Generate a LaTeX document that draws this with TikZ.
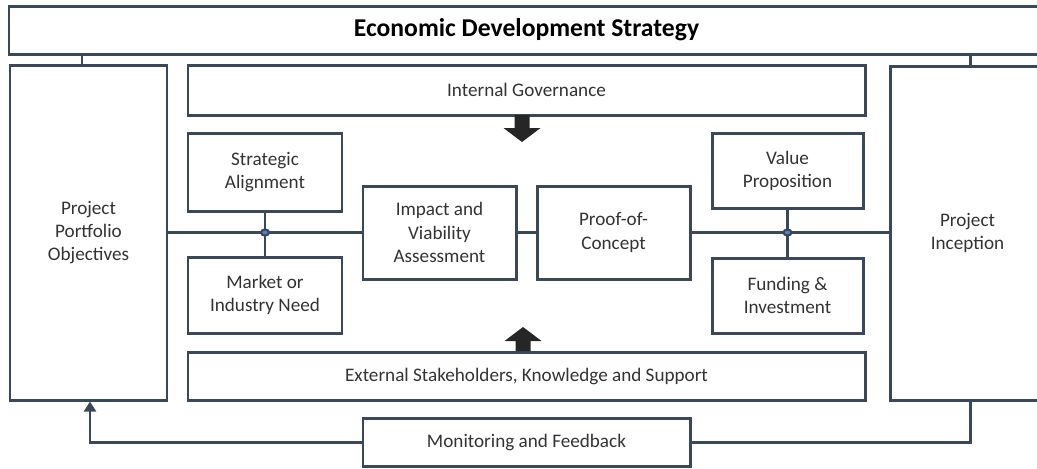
\documentclass[tikz,border=0pt]{standalone}
\usepackage{fontspec}
\setmainfont{Carlito}
\usetikzlibrary{arrows.meta}
\definecolor{edgeslate}{HTML}{3A485A}
\definecolor{dotblue}{HTML}{4F86C6}
\definecolor{arrowink}{HTML}{262626}
\def\px{0.02cm}

\begin{document}
\begin{tikzpicture}[x=\px,y=-\px,
	stage/.style={draw=edgeslate, line width=1.7pt, fill=white, inner sep=0pt, align=center,
		text=black!80, font=\fontsize{10.9}{13.2}\selectfont},
	link/.style={draw=edgeslate, line width=1.7pt},
	joint/.style={fill=dotblue, draw=edgeslate, line width=1.2pt}]
				\useasboundingbox (0,0) rectangle (1037,468);
				
				% strategy banner and the two side columns
				\node[stage, minimum width=1035*\px, minimum height=48*\px, text=black,
					font=\bfseries\fontsize{14.6}{17}\selectfont] (eds) at (526.5,30) {Economic Development Strategy};
				\node[stage, minimum width=157*\px, minimum height=335*\px] (ppo) at (88.5,232.5) {Project\\Portfolio\\Objectives};
				\node[stage, minimum width=155*\px, minimum height=334*\px] (inc) at (967.5,233) {Project\\Inception};
				
				% governance and stakeholder bands
				\node[stage, minimum width=677*\px, minimum height=50*\px] (gov) at (526.5,90) {Internal Governance};
				\node[stage, minimum width=677*\px, minimum height=48*\px] (ext) at (526.5,376) {External Stakeholders, Knowledge and Support};
				\node[stage, minimum width=327*\px, minimum height=48*\px] (mon) at (526.5,442) {Monitoring and Feedback};
				
				% inner boxes
				\node[stage, minimum width=154*\px, minimum height=78*\px] (sa) at (265,172) {Strategic\\Alignment};
				\node[stage, minimum width=154*\px, minimum height=76*\px] (mkt) at (265,295) {Market or\\Industry Need};
				\node[stage, minimum width=153*\px, minimum height=93*\px] (imp) at (439.5,232.5) {Impact and\\Viability\\Assessment};
				\node[stage, minimum width=153*\px, minimum height=93*\px] (poc) at (613.5,232.5) {Proof-of-\\Concept};
				\node[stage, minimum width=151*\px, minimum height=75*\px] (vp) at (787.5,170.5) {Value\\Proposition};
				\node[stage, minimum width=151*\px, minimum height=75*\px] (fund) at (787.5,295.5) {Funding \&\\Investment};
				
				% taps off the banner
				\coordinate (tapL) at (82,0);
				\coordinate (tapR) at (970,0);
				\coordinate (fb) at (90,0);
				\draw[link] (eds.south -| tapL) -- (ppo.north -| tapL);
				\draw[link] (eds.south -| tapR) -- (inc.north -| tapR);
				
				% main line through the middle
				\draw[link] (ppo.east) -- (imp.west);
				\draw[link] (sa.south) -- (mkt.north);
				\draw[link] (imp.east) -- (poc.west);
				\draw[link] (poc.east) -- (poc.east -| inc.west);
				\draw[link] (vp.south) -- (fund.north);
				\draw[joint] (sa.south |- imp.west) ellipse (4 and 3);
				\draw[joint] (vp.south |- poc.east) ellipse (4 and 3);
				
				% feedback loop
				\draw[link] (inc.south -| tapR) |- (mon.east);
				\draw[link, -{Triangle[length=5.7pt, width=6.8pt]}] (mon.west) -| (ppo.south -| fb);
				
				% block arrows
				\coordinate (dn) at (522,115);
				\coordinate (up) at (523,351);
				\fill[arrowink] (dn) ++(-7.5,0) -- ++(0,13) -- ++(-11,0) -- ++(18.5,14) -- ++(18.5,-14) -- ++(-11,0) -- ++(0,-13) -- cycle;
				\fill[arrowink] (up) ++(-7.5,0) -- ++(0,-10) -- ++(-11,0) -- ++(18.5,-14) -- ++(18.5,14) -- ++(-11,0) -- ++(0,10) -- cycle;
\end{tikzpicture}
\end{document}
